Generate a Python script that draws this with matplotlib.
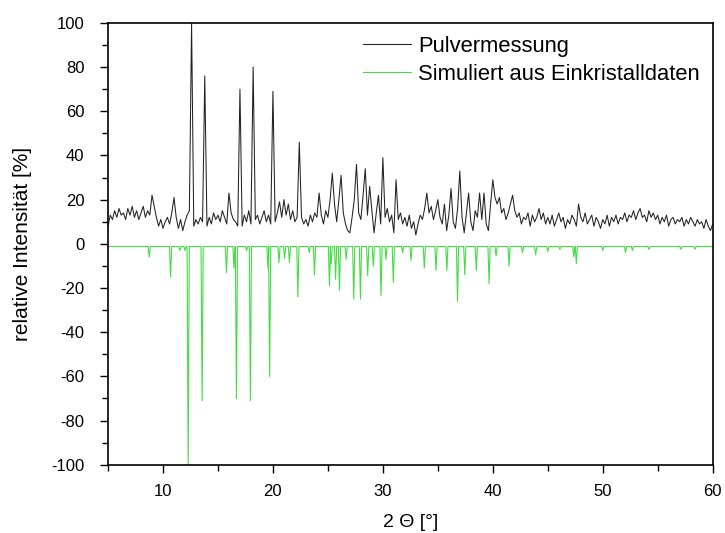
import numpy as np
import matplotlib
matplotlib.use('Agg')
import matplotlib.pyplot as plt

plt.rcParams['font.family'] = ['Liberation Sans', 'DejaVu Sans']
plt.rcParams['axes.unicode_minus'] = False

measured_intensity = [
    8, 13, 11, 15, 12, 16, 13, 14, 11, 16,      # 5.0 - 6.8
    13, 17, 12, 15, 11, 14, 17, 12, 15, 13,     # 7.0 - 8.8
    22, 17, 12, 8, 11, 7, 10, 12, 9, 14,        # 9.0 - 10.8
    21, 12, 7, 11, 6, 10, 13, 15, 100, 8,       # 11.0 - 12.8
    11, 9, 12, 10, 76, 8, 12, 9, 14, 11,        # 13.0 - 14.8
    13, 10, 15, 12, 9, 23, 14, 11, 10, 8,       # 15.0 - 16.8
    70, 8, 13, 10, 15, 9, 80, 11, 13, 9,        # 17.0 - 18.8
    12, 15, 10, 13, 9, 69, 10, 14, 19, 12,      # 19.0 - 20.8
    20, 13, 18, 11, 15, 10, 12, 46, 12, 9,      # 21.0 - 22.8
    11, 8, 13, 10, 14, 12, 23, 13, 9, 15,       # 23.0 - 24.8
    12, 20, 32, 18, 10, 20, 31, 14, 9, 6,       # 25.0 - 26.8
    5, 12, 20, 36, 14, 11, 22, 34, 13, 26,      # 27.0 - 28.8
    15, 5, 14, 22, 9, 39, 12, 16, 10, 13,       # 29.0 - 30.8
    5, 29, 11, 14, 9, 12, 8, 13, 7, 10,         # 31.0 - 32.8
    4, 9, 13, 11, 16, 23, 14, 17, 11, 15,       # 33.0 - 34.8
    20, 12, 9, 18, 6, 13, 25, 10, 7, 16,        # 35.0 - 36.8
    33, 12, 5, 14, 23, 10, 6, 15, 12, 23,       # 37.0 - 38.8
    11, 23, 9, 6, 18, 29, 21, 18, 21, 14,       # 39.0 - 40.8
    16, 11, 14, 18, 22, 15, 12, 14, 9, 12,      # 41.0 - 42.8
    11, 14, 8, 13, 10, 12, 16, 11, 14, 9,       # 43.0 - 44.8
    12, 9, 13, 8, 11, 14, 10, 12, 7, 11,        # 45.0 - 46.8
    9, 13, 11, 8, 18, 12, 10, 14, 9, 11,        # 47.0 - 48.8
    13, 8, 12, 10, 7, 11, 9, 13, 8, 12,         # 49.0 - 50.8
    10, 13, 9, 12, 11, 14, 10, 13, 12, 15,      # 51.0 - 52.8
    11, 14, 16, 12, 13, 10, 15, 12, 14, 11,     # 53.0 - 54.8
    13, 9, 12, 10, 13, 8, 11, 12, 9, 11,        # 55.0 - 56.8
    10, 12, 8, 11, 9, 12, 10, 8, 11, 9,         # 57.0 - 58.8
    10, 7, 11, 8, 6, 9,                         # 59.0 - 60.0
]
measured_2theta = np.linspace(5, 60, len(measured_intensity))

# simulated pattern from single crystal data: reflex positions and (negative) intensities
sim_pos = [8.75, 10.69, 11.53, 12.0, 12.29, 13.56, 15.77, 16.46, 16.68, 17.6,
           17.95, 19.55, 19.7, 20.55, 21.06, 21.5, 22.27, 23.3, 23.78, 25.14,
           25.3, 25.7, 26.05, 26.66, 27.35, 27.96, 28.62, 29.13, 29.83, 30.29,
           30.95, 31.8, 32.56, 33.77, 34.83, 35.82, 36.79, 37.45, 38.5, 39.66,
           40.3, 41.48, 42.7, 43.9, 45.0, 46.1, 47.37, 47.6, 50.0, 52.07,
           52.7, 54.2, 57.1, 58.4]
sim_int = [-6, -15, -3, -3, -100, -71, -13, -11, -70, -3,
           -71, -11, -60, -8.5, -6.5, -8.5, -24, -4, -14, -19,
           -9, -16, -21, -7, -25, -25, -14.5, -10, -23.5, -7,
           -17.5, -4, -7.5, -11, -12, -12, -26, -14, -12, -18,
           -5.5, -10, -4, -5, -3.5, -2.5, -6, -9, -3, -4,
           -3, -2.5, -2.5, -2.5]
sim_base = -1.2
peak_half_width = 0.1

sim_x = [5.0]
sim_y = [sim_base]
for p, h in sorted(zip(sim_pos, sim_int)):
    sim_x += [p - peak_half_width, p, p + peak_half_width]
    sim_y += [sim_base, h, sim_base]
sim_x.append(60.0)
sim_y.append(sim_base)

fig = plt.figure(figsize=(7.25, 5.33), dpi=100)
ax = fig.add_axes([0.149, 0.128, 0.834, 0.829])

ax.plot(measured_2theta, measured_intensity, color='#222222', lw=0.75, label='Pulvermessung')
ax.plot(sim_x, sim_y, color='#44dd44', lw=0.8, label='Simuliert aus Einkristalldaten')

ax.set_xlim(5, 60)
ax.set_ylim(-100, 100)
ax.set_xticks(range(10, 61, 10))
ax.set_xticks(range(5, 61, 5), minor=True)
ax.set_yticks(range(-100, 101, 20))
ax.set_yticks(range(-100, 101, 10), minor=True)
ax.tick_params(which='both', direction='out', labelsize=12, width=1.0, colors='black')
ax.tick_params(which='major', length=6)
ax.tick_params(which='minor', length=4)
ax.tick_params(axis='y', pad=11)
ax.tick_params(axis='x', pad=8)
for s in ax.spines.values():
    s.set_linewidth(1.2)

ax.set_xlabel('2 Θ [°]', fontsize=14, labelpad=11)
ax.set_ylabel('relative Intensität [%]', fontsize=15, labelpad=14)

leg = ax.legend(loc='upper right', frameon=False, fontsize=15.8, handlelength=2.2,
                handletextpad=0.3, borderaxespad=0.2, labelspacing=0.3)

fig.savefig('out.png', dpi=100)
